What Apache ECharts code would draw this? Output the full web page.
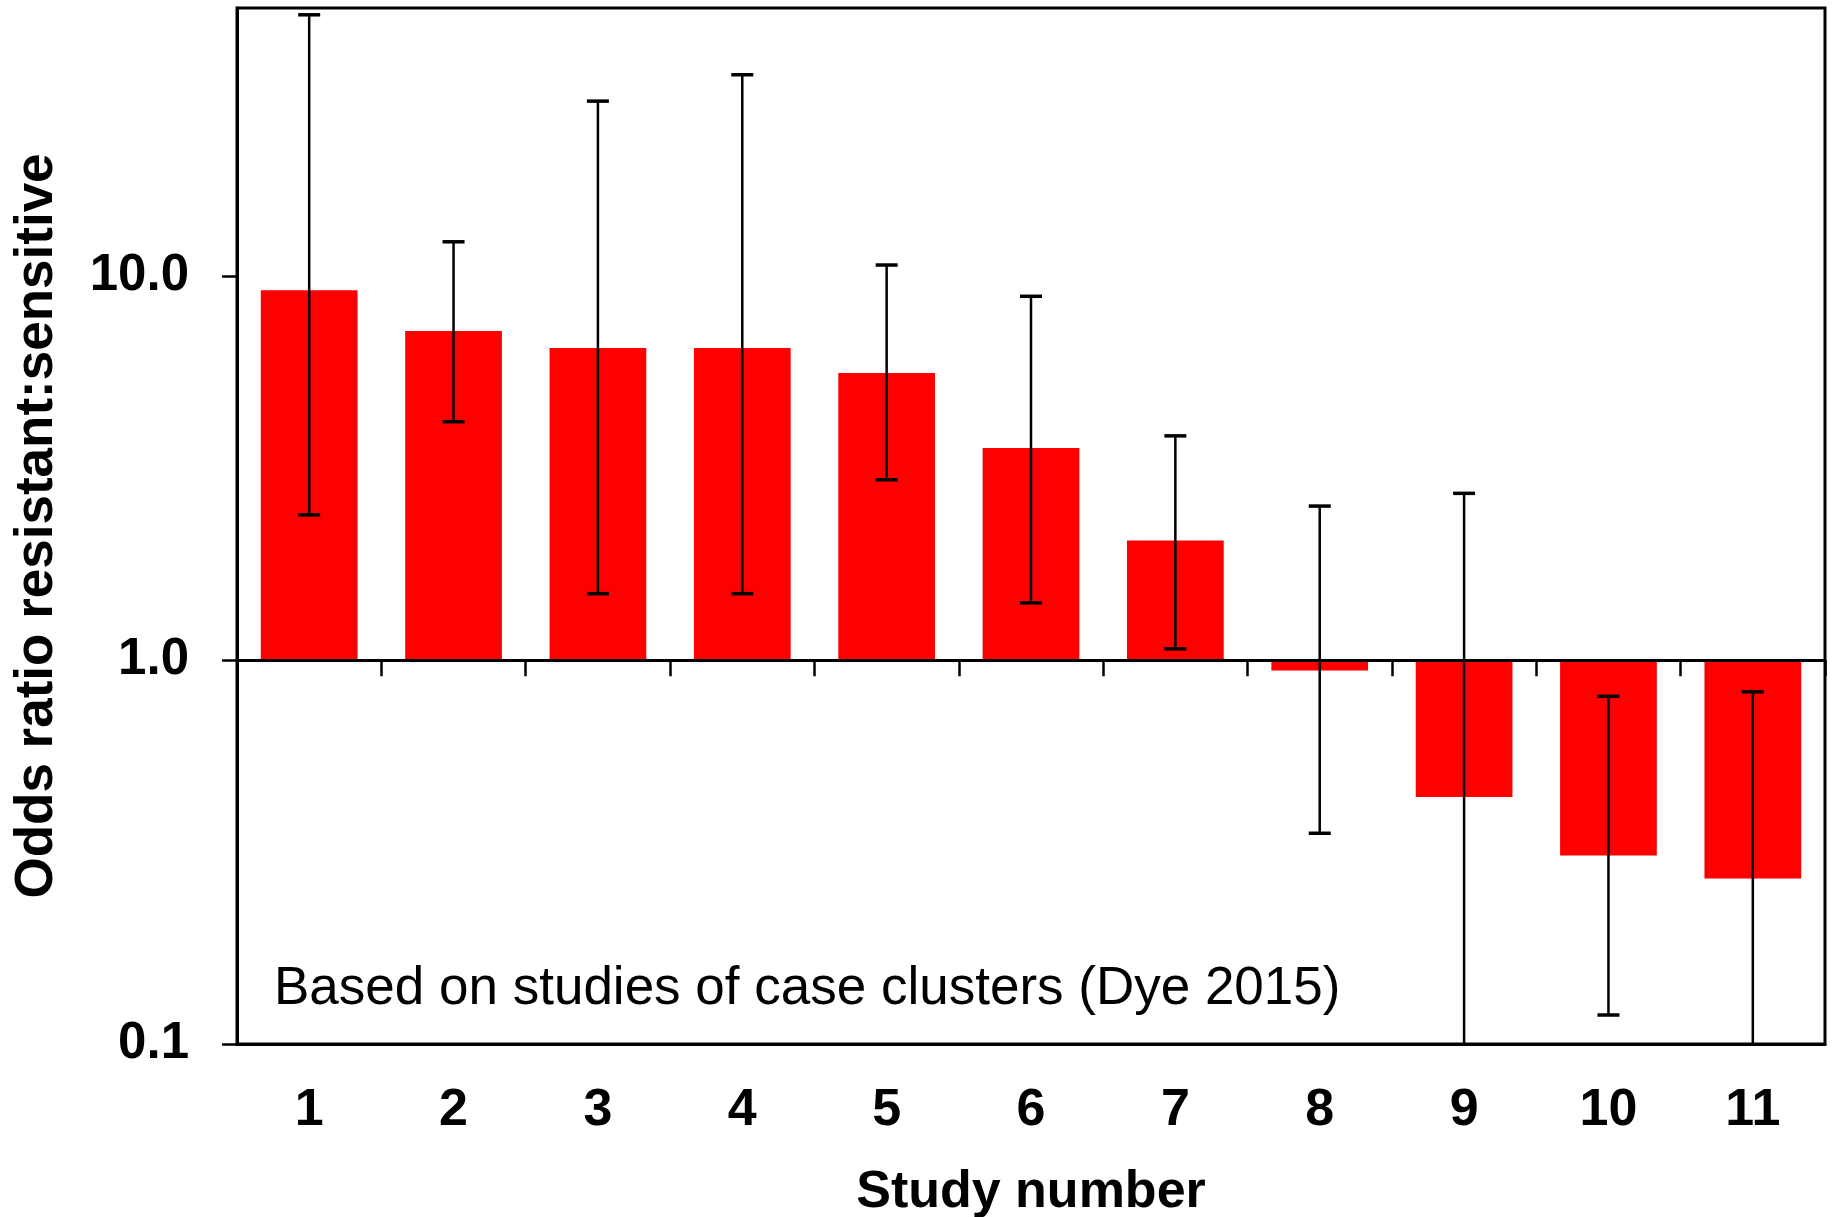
<!DOCTYPE html>
<html>
<head>
<meta charset="utf-8">
<title>Odds ratio resistant:sensitive by study</title>
<script src="https://cdn.jsdelivr.net/npm/echarts@6/dist/echarts.min.js"></script>
<style>
  html, body { margin: 0; padding: 0; background: #fff; }
  #chart { width: 1833px; height: 1217px; }
</style>
</head>
<body>
<div id="chart"></div>
<script>
// Study numbers along the x axis
const studies = ['1', '2', '3', '4', '5', '6', '7', '8', '9', '10', '11'];
// Odds ratio (resistant:sensitive) for each study
const oddsRatio = [9.2, 7.2, 6.5, 6.5, 5.6, 3.57, 2.05, 0.94, 0.44, 0.31, 0.27];
// 95% confidence limits (lower, upper); some lower limits fall below the axis
const ciLower = [2.39, 4.18, 1.49, 1.49, 2.95, 1.41, 1.07, 0.354, 0.09, 0.119, 0.09];
const ciUpper = [48, 12.3, 28.6, 33.5, 10.7, 8.87, 3.84, 2.52, 2.72, 0.805, 0.827];
// Log-axis range and labelled ticks
const yMin = 0.1;
const yMax = 50;
const yTicks = [0.1, 1, 10];
const note = 'Based on studies of case clusters (Dye 2015)';

const FONT = '"Liberation Sans", Arial, Helvetica, sans-serif';
const W = 1833, H = 1217;
const grid = { left: 237, right: 8, top: 8, bottom: 173 };
const gridH = H - grid.top - grid.bottom;
// the reference line at OR = 1 sits this far above the bottom of the plot
const oneLineOffset = -gridH * (Math.log10(1) - Math.log10(yMin)) /
  (Math.log10(yMax) - Math.log10(yMin));

const ciData = studies.map((s, i) => [i, ciLower[i], ciUpper[i]]);

const chart = echarts.init(document.getElementById('chart'), null, { renderer: 'canvas' });

chart.setOption({
  animation: false,
  backgroundColor: '#fff',
  grid: {
    left: grid.left, right: grid.right, top: grid.top, bottom: grid.bottom,
    show: true, borderColor: '#000', borderWidth: 3, backgroundColor: '#fff',
    containLabel: false, outerBoundsMode: 'none'
  },
  xAxis: [
    {
      type: 'category',
      data: studies,
      position: 'bottom',
      axisLine: { show: true, onZero: false, lineStyle: { color: '#000', width: 3 } },
      axisTick: { show: false },
      axisLabel: { color: '#000', fontFamily: FONT, fontWeight: 'bold', fontSize: 52, margin: 41 },
      name: 'Study number',
      nameLocation: 'middle',
      nameGap: 123,
      nameTextStyle: { color: '#000', fontFamily: FONT, fontWeight: 'bold', fontSize: 52 },
      splitLine: { show: false }
    },
    {
      // horizontal line at odds ratio 1.0 with category separator ticks
      type: 'category',
      data: studies,
      position: 'bottom',
      offset: oneLineOffset,
      z: 10,
      axisLine: { show: true, onZero: false, lineStyle: { color: '#000', width: 3 } },
      axisTick: { show: true, length: 16, lineStyle: { color: '#000', width: 2.5 } },
      axisLabel: { show: false },
      splitLine: { show: false }
    }
  ],
  yAxis: {
    type: 'log',
    logBase: 10,
    min: yMin,
    max: yMax,
    name: 'Odds ratio resistant:sensitive',
    nameLocation: 'middle',
    nameGap: 173,
    nameTextStyle: { color: '#000', fontFamily: FONT, fontWeight: 'bold', fontSize: 53 },
    axisLine: { show: true, lineStyle: { color: '#000', width: 3 } },
    axisTick: { show: true, length: 15, customValues: yTicks, lineStyle: { color: '#000', width: 2.5 } },
    axisLabel: {
      color: '#000', fontFamily: FONT, fontWeight: 'bold', fontSize: 51, margin: 48,
      customValues: yTicks,
      formatter: v => Number(v).toFixed(1)
    },
    splitLine: { show: false },
    minorTick: { show: false }
  },
  series: [
    {
      type: 'bar',
      xAxisIndex: 0,
      data: oddsRatio,
      barWidth: '67%',
      itemStyle: { color: '#ff0000' },
      z: 2
    },
    {
      type: 'custom',
      xAxisIndex: 0,
      data: ciData,
      encode: { x: 0, y: [1, 2] },
      z: 5,
      renderItem: function (params, api) {
        const i = api.value(0);
        const lo = api.value(1);
        const hi = api.value(2);
        const top = api.coord([i, hi]);
        const bot = api.coord([i, Math.max(lo, yMin)]);
        const half = 11;
        const children = [
          { type: 'line', shape: { x1: top[0], y1: top[1], x2: bot[0], y2: bot[1] },
            style: { stroke: '#000', lineWidth: 2.5 } },
          { type: 'line', shape: { x1: top[0] - half, y1: top[1], x2: top[0] + half, y2: top[1] },
            style: { stroke: '#000', lineWidth: 3.5 } }
        ];
        if (lo >= yMin) {
          children.push({ type: 'line', shape: { x1: bot[0] - half, y1: bot[1], x2: bot[0] + half, y2: bot[1] },
            style: { stroke: '#000', lineWidth: 3.5 } });
        }
        return { type: 'group', children: children };
      }
    }
  ],
  graphic: [
    {
      type: 'text',
      x: 274,
      y: 989,
      z: 20,
      style: {
        text: note,
        fill: '#000',
        fontFamily: FONT,
        fontSize: 53,
        verticalAlign: 'middle'
      }
    }
  ]
});
</script>
</body>
</html>
